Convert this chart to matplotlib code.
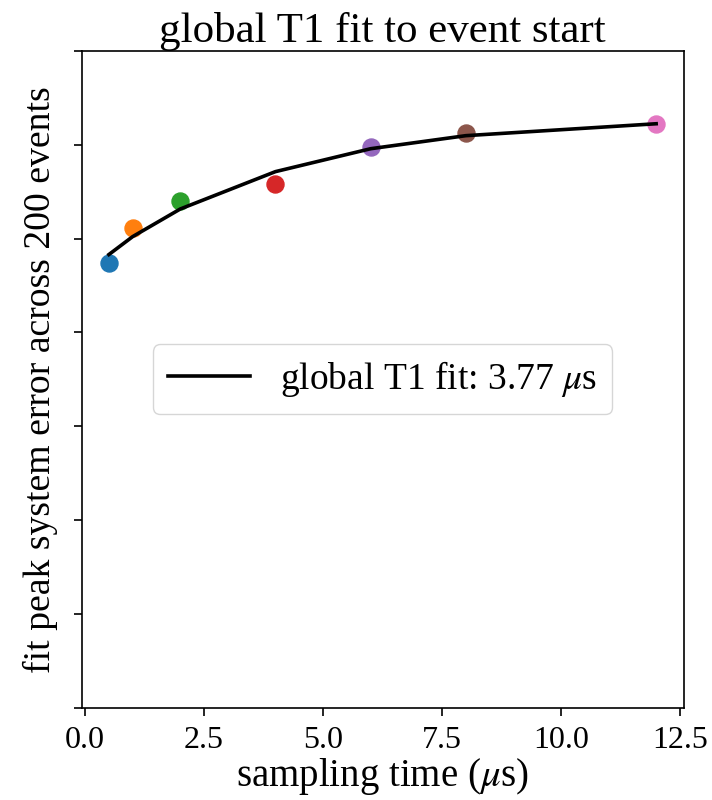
import matplotlib
matplotlib.use("Agg")
import matplotlib.pyplot as plt

plt.rcParams['font.family'] = ['Liberation Serif', 'DejaVu Serif']
plt.rcParams['mathtext.fontset'] = 'stix'
plt.rcParams['font.size'] = 28

# sampling times (us) and peak error per run
sample_times = [0.5, 1, 2, 4, 6, 8, 12]
peak_error = [0.4745, 0.5117, 0.5395, 0.5585, 0.5979, 0.6128, 0.6223]
# global exponential fit evaluated at the same times
fit_error = [0.4830, 0.5021, 0.5315, 0.5713, 0.5957, 0.6096, 0.6223]
t1_fit = 3.77
n_events = 200

fig = plt.figure(figsize=(7.12, 8), dpi=100)
ax = fig.add_axes([0.1145, 0.1150, 0.8455, 0.8215])

for i, (t, e) in enumerate(zip(sample_times, peak_error)):
    ax.scatter(t, e, s=150, color=f'C{i}', zorder=2)

ax.plot(sample_times, fit_error, color='black', lw=2.6, zorder=3,
        label=f'global T1 fit: {t1_fit:.2f} $\\mu$s')

ax.set_ylim(0, 0.7)
ax.set_yticks([0.1 * k for k in range(8)])
ax.set_yticklabels([])
ax.set_xticks([0, 2.5, 5, 7.5, 10, 12.5])
ax.tick_params(length=6, width=1.2, labelsize=23, pad=7)
for sp in ax.spines.values():
    sp.set_linewidth(1.2)

ax.set_xlabel('sampling time ($\\mu$s)', labelpad=1)
ax.set_ylabel(f'fit peak system error across {n_events} events', fontsize=27.2)
ax.set_title('global T1 fit to event start', fontsize=31)
ax.legend(loc='center', handlelength=2.2, fontsize=27)

fig.savefig('out.png', dpi=100)
